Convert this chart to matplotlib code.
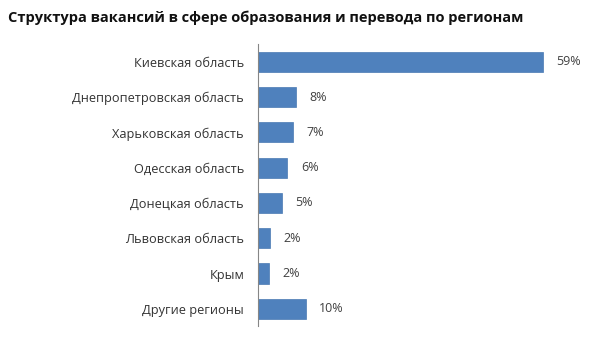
import matplotlib.pyplot as plt

regions = [
    "Киевская область",
    "Днепропетровская область",
    "Харьковская область",
    "Одесская область",
    "Донецкая область",
    "Львовская область",
    "Крым",
    "Другие регионы",
]
values = [59, 7.9, 7.2, 6.1, 4.9, 2.4, 2.3, 9.9]
value_labels = ["59%", "8%", "7%", "6%", "5%", "2%", "2%", "10%"]

plt.rcParams['font.family'] = ['Open Sans', 'DejaVu Sans']

fig = plt.figure(figsize=(6, 3.51), dpi=100)
ax = fig.add_axes([0.43, 0.07, 0.563, 0.804])

pos = list(range(len(regions)))
ax.barh(pos, values, height=0.57, color="#4F81BD", edgecolor="#4A7AB3", linewidth=0.5)
ax.set_ylim(len(regions) - 0.5, -0.5)
ax.set_xlim(0, 70)

for p, v, lab in zip(pos, values, value_labels):
    ax.text(v + 2.8, p, lab, va="center", ha="left", fontsize=9, color="#404040")

ax.set_yticks(pos)
ax.set_yticklabels(regions, fontsize=9.2, color="#333333")
ax.tick_params(axis="y", length=0, pad=10)
ax.set_xticks([])
for s in ["top", "right", "bottom"]:
    ax.spines[s].set_visible(False)
ax.spines["left"].set_color("#868686")
ax.spines["left"].set_linewidth(0.8)

fig.text(0.013, 0.95, "Структура вакансий в сфере образования и перевода по регионам",
         fontsize=10.5, fontweight="bold", va="center", ha="left", color="#111111")

fig.savefig("out.png", dpi=100)
